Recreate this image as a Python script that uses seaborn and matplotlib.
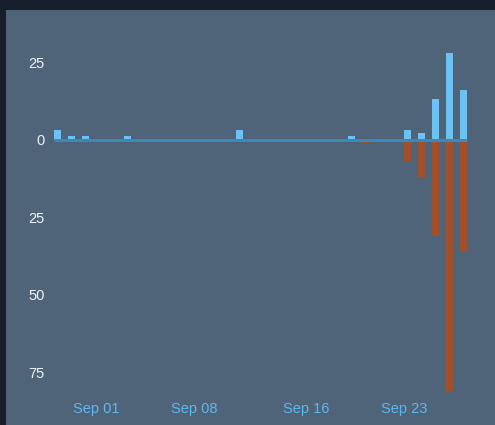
import pandas as pd
import seaborn as sns
import matplotlib.dates as mdates
from matplotlib import pyplot as plt

days = pd.date_range('2023-08-29', '2023-09-27', freq='D')
positive = [3, 1, 1, 0, 0, 1, 0, 0, 0, 0, 0, 0, 0, 3, 0,
            0, 0, 0, 0, 0, 0, 1, 0, 0, 0, 3, 2, 13, 28, 16]
negative = [0, 0, 0, 0, 0, 0, 0, 0, 0, 0, 0, 0, 0, 0, 0,
            0, 0, 0, 0, 0, 0, 0, 1, 0, 0, 7, 12, 31, 81, 36]
tick_days = ['2023-09-01', '2023-09-08', '2023-09-16', '2023-09-23']
tick_labels = ['Sep 01', 'Sep 08', 'Sep 16', 'Sep 23']
y_ticks = [25, 0, -25, -50, -75]

panel = '#506479'
blue = '#6cc3f3'
orange = '#a2502b'

sns.set_style('white')
plt.rcParams['font.family'] = ['Liberation Sans', 'DejaVu Sans']

fig = plt.figure(figsize=(4.95, 4.25), dpi=100, facecolor='#171f2c')

# dark left strip + panel background
strip = fig.add_axes([0, 0, 6 / 495, 415 / 425], zorder=-2)
strip.set_facecolor('#222c3b')
strip.axis('off')
strip.patch.set_visible(True)
bg = fig.add_axes([6 / 495, 0, 489 / 495, 415 / 425], zorder=-1)
bg.set_facecolor(panel)
bg.set_xticks([])
bg.set_yticks([])
for s in bg.spines.values():
    s.set_visible(False)
for s in strip.spines.values():
    s.set_visible(False)

ax = fig.add_axes([50 / 495, 30 / 425, 430 / 495, 385 / 425])
ax.set_facecolor('none')

x = mdates.date2num(days) + 0.25
df = pd.DataFrame({'x': x, 'pos': positive, 'neg': [-v for v in negative]})

sns.barplot(data=df, x='x', y='pos', native_scale=True, orient='x', width=0.5,
            color=blue, saturation=1, linewidth=0, ax=ax)
sns.barplot(data=df, x='x', y='neg', native_scale=True, orient='x', width=0.5,
            color=orange, saturation=1, linewidth=0, ax=ax)
ax.hlines(0, x[0] - 0.25, x[-1] + 0.25, color='#3d88b6', linewidth=2.2, zorder=5)

ax.set_xlim(x[0] - 0.536, x[0] + 30.18)
ax.set_ylim(-82.4, 41.8)
ax.set_xticks(mdates.date2num(pd.to_datetime(tick_days)))
ax.set_xticklabels(tick_labels)
ax.set_yticks(y_ticks)
ax.set_yticklabels([str(abs(v)) for v in y_ticks])
ax.tick_params(axis='x', length=0, pad=5, labelsize=10.5, labelcolor='#5cb8ee')
ax.tick_params(axis='y', length=0, pad=4, labelsize=10.5, labelcolor='#eef2f6')
ax.set_xlabel('')
ax.set_ylabel('')
sns.despine(ax=ax, left=True, bottom=True)

fig.savefig('out.png', dpi=100)
